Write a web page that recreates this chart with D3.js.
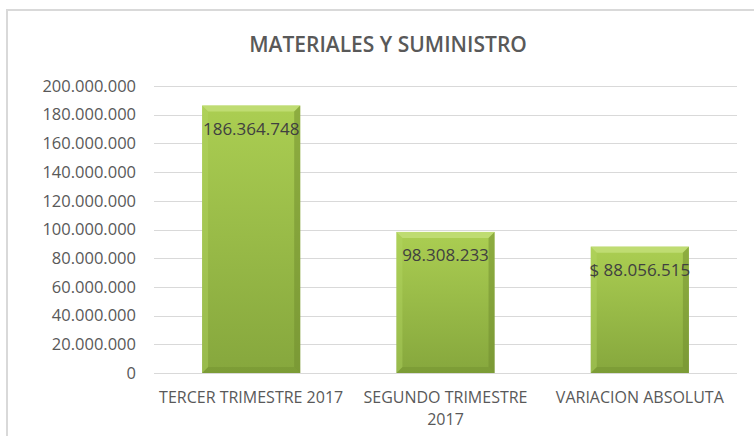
<!DOCTYPE html>
<html>
<head>
<meta charset="utf-8">
<script src="https://cdn.jsdelivr.net/npm/d3@7"></script>
<style>
  body { margin: 0; background: #fff; }
  text { font-family: "Open Sans", sans-serif; }
</style>
</head>
<body>
<svg id="chart" width="754" height="436"></svg>
<script>
// chart data
var categories = ["TERCER TRIMESTRE 2017", "SEGUNDO TRIMESTRE 2017", "VARIACION ABSOLUTA"];
var values = [186364748, 98308233, 88056515];
var valueLabels = ["186.364.748", "98.308.233", "$ 88.056.515"];
var tickValues = [0, 20000000, 40000000, 60000000, 80000000, 100000000, 120000000, 140000000, 160000000, 180000000, 200000000];

var svg = d3.select("#chart");
var margin = {left: 154, right: 17, top: 86, bottom: 63};
var width = 754 - margin.left - margin.right;
var height = 436 - margin.top - margin.bottom;

// frame of the chart area
svg.append("path")
    .attr("d", "M7,436 L7,10 L754,10")
    .attr("fill", "none")
    .attr("stroke", "#d9d9d9")
    .attr("stroke-width", 2);

svg.append("text")
    .attr("x", 388)
    .attr("y", 52)
    .attr("text-anchor", "middle")
    .attr("font-size", 21)
    .attr("font-weight", "600")
    .attr("fill", "#595959")
    .text("MATERIALES Y SUMINISTRO");

var defs = svg.append("defs");
var grad = defs.append("linearGradient").attr("id", "barGrad")
    .attr("x1", 0).attr("y1", 0).attr("x2", 0).attr("y2", 1);
grad.append("stop").attr("offset", "0%").attr("stop-color", "#abce52");
grad.append("stop").attr("offset", "100%").attr("stop-color", "#86a73d");

var g = svg.append("g").attr("transform", "translate(" + margin.left + "," + margin.top + ")");

var x = d3.scaleBand().domain(categories).range([0, width]).paddingInner(0.495).paddingOuter(0.2475);
var y = d3.scaleLinear().domain([0, 200000000]).range([height, 0]);

var fmt = function(d) { return d3.format(",")(d).replace(/,/g, "."); };

// gridlines
g.append("g")
    .selectAll("line")
    .data(tickValues)
    .join("line")
    .attr("x1", 0).attr("x2", width)
    .attr("y1", function(d) { return Math.round(y(d)) + 0.5; })
    .attr("y2", function(d) { return Math.round(y(d)) + 0.5; })
    .attr("stroke", "#d9d9d9");

// y axis labels
var yAxis = g.append("g")
    .attr("transform", "translate(-8,0)")
    .call(d3.axisLeft(y).tickValues(tickValues).tickFormat(fmt).tickSize(0).tickPadding(10));
yAxis.select(".domain").remove();
yAxis.selectAll("text").attr("font-size", 16.5).attr("fill", "#595959").attr("font-family", "Open Sans");

// bars
var bars = g.selectAll(".bar")
    .data(values)
    .join("g")
    .attr("class", "bar");

bars.append("rect")
    .attr("x", function(d, i) { return x(categories[i]); })
    .attr("y", function(d) { return y(d); })
    .attr("width", x.bandwidth())
    .attr("height", function(d) { return height - y(d); })
    .attr("fill", "url(#barGrad)");

// bevel edges
var bev = 6;
bars.append("path")
    .attr("d", function(d, i) {
        var x0 = x(categories[i]), x1 = x0 + x.bandwidth(), y0 = y(d);
        return "M" + x0 + "," + y0 + "L" + x1 + "," + y0 + "L" + (x1 - bev) + "," + (y0 + bev) + "L" + (x0 + bev) + "," + (y0 + bev) + "Z";
    })
    .attr("fill", "#c4e07a")
    .attr("opacity", 0.8);
bars.append("path")
    .attr("d", function(d, i) {
        var x0 = x(categories[i]), x1 = x0 + x.bandwidth(), y0 = y(d), y1 = height;
        return "M" + x1 + "," + y0 + "L" + x1 + "," + y1 + "L" + (x1 - bev) + "," + (y1 - bev) + "L" + (x1 - bev) + "," + (y0 + bev) + "Z";
    })
    .attr("fill", "#6f8c2e")
    .attr("opacity", 0.5);
bars.append("path")
    .attr("d", function(d, i) {
        var x0 = x(categories[i]), x1 = x0 + x.bandwidth(), y0 = y(d), y1 = height;
        return "M" + x0 + "," + y1 + "L" + x1 + "," + y1 + "L" + (x1 - bev) + "," + (y1 - bev) + "L" + (x0 + bev) + "," + (y1 - bev) + "Z";
    })
    .attr("fill", "#6f8c2e")
    .attr("opacity", 0.4);
bars.append("path")
    .attr("d", function(d, i) {
        var x0 = x(categories[i]), y0 = y(d), y1 = height;
        return "M" + x0 + "," + y0 + "L" + (x0 + bev) + "," + (y0 + bev) + "L" + (x0 + bev) + "," + (y1 - bev) + "L" + x0 + "," + y1 + "Z";
    })
    .attr("fill", "#b5d663")
    .attr("opacity", 0.4);

// value labels
bars.append("text")
    .attr("x", function(d, i) { return x(categories[i]) + x.bandwidth() / 2; })
    .attr("y", function(d) { return y(d) + 29; })
    .attr("text-anchor", "middle")
    .attr("font-size", 17)
    .attr("fill", "#404040")
    .text(function(d, i) { return valueLabels[i]; });

// baseline
g.append("line")
    .attr("x1", 0).attr("x2", width)
    .attr("y1", height + 0.5).attr("y2", height + 0.5)
    .attr("stroke", "#d9d9d9");

// category labels
var catLines = [["TERCER TRIMESTRE 2017"], ["SEGUNDO TRIMESTRE", "2017"], ["VARIACION ABSOLUTA"]];
var cats = g.selectAll(".cat")
    .data(categories)
    .join("text")
    .attr("class", "cat")
    .attr("x", function(d) { return x(d) + x.bandwidth() / 2; })
    .attr("y", height + 30)
    .attr("text-anchor", "middle")
    .attr("font-size", 16)
    .attr("fill", "#595959");
cats.selectAll("tspan")
    .data(function(d, i) { return catLines[i]; })
    .join("tspan")
    .attr("x", function() { return d3.select(this.parentNode).attr("x"); })
    .attr("dy", function(d, j) { return j === 0 ? 0 : 22; })
    .text(function(d) { return d; });
</script>
</body>
</html>
